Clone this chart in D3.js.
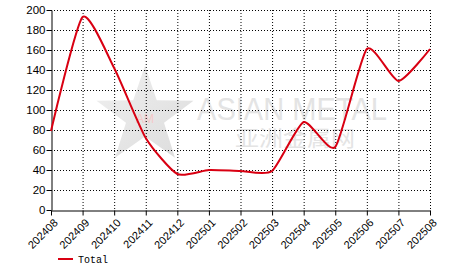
<!DOCTYPE html>
<html>
<head>
<meta charset="utf-8">
<script src="https://cdn.jsdelivr.net/npm/d3@7"></script>
<style>
  body { margin: 0; background: #fff; }
  svg { display: block; }
</style>
</head>
<body>
<svg id="chart" width="466" height="272"></svg>
<script>
const months = ["202408", "202409", "202410", "202411", "202412", "202501", "202502",
  "202503", "202504", "202505", "202506", "202507", "202508"];
const totals = [79, 193, 142, 72, 36, 40, 39, 39, 88, 63, 161, 129, 161];
const yTicks = [0, 20, 40, 60, 80, 100, 120, 140, 160, 180, 200];
const seriesName = "Total";

const svg = d3.select("#chart");
const margin = { top: 10, right: 36, bottom: 62, left: 51 };
const innerWidth = 466 - margin.left - margin.right;
const innerHeight = 272 - margin.top - margin.bottom;

const x = d3.scalePoint().domain(months).range([0, innerWidth]);
const y = d3.scaleLinear().domain([0, 200]).range([innerHeight, 0]);

// watermark
const defs = svg.append("defs");
const grad = defs.append("linearGradient").attr("id", "starfill")
  .attr("x1", 0).attr("y1", 0).attr("x2", 1).attr("y2", 1);
grad.append("stop").attr("offset", "0%").attr("stop-color", "#f0f0f0");
grad.append("stop").attr("offset", "100%").attr("stop-color", "#dcdcdc");
const wm = svg.append("g");
const star = d3.range(10).map(i => {
  const r = i % 2 ? 20 : 51;
  const a = -Math.PI / 2 + i * Math.PI / 5;
  return [145 + r * Math.cos(a), 116.5 + r * Math.sin(a)];
});
wm.append("polygon").attr("points", star.join(" ")).attr("fill", "url(#starfill)");
wm.append("text").attr("x", 145).attr("y", 123).attr("text-anchor", "middle")
  .attr("font-family", "Liberation Sans, Arial, sans-serif").attr("font-size", 12)
  .attr("fill", "#f6c8c8").text("AM");
wm.append("text").attr("x", 197).attr("y", 120)
  .attr("font-family", "Liberation Sans, Arial, sans-serif")
  .attr("font-size", 32).attr("fill", "#e4e4e4")
  .attr("textLength", 190).attr("lengthAdjust", "spacingAndGlyphs").text("ASIAN METAL");
wm.append("text").attr("x", 235).attr("y", 146)
  .attr("font-family", "Noto Sans CJK SC, sans-serif").attr("font-size", 22)
  .attr("fill", "#e4e4e4")
  .attr("textLength", 120).attr("lengthAdjust", "spacingAndGlyphs").text("亚洲金属网");

const g = svg.append("g").attr("transform", `translate(${margin.left},${margin.top})`);

// dotted grid
g.append("g").selectAll("line")
  .data(yTicks.filter(d => d > 0))
  .join("line")
  .attr("x1", 0).attr("x2", innerWidth)
  .attr("y1", d => y(d) + 0.5).attr("y2", d => y(d) + 0.5)
  .attr("stroke", "#000").attr("stroke-dasharray", "1,2");
g.append("g").selectAll("line")
  .data(months.slice(1))
  .join("line")
  .attr("x1", d => x(d) + 0.5).attr("x2", d => x(d) + 0.5)
  .attr("y1", 0).attr("y2", innerHeight)
  .attr("stroke", "#000").attr("stroke-dasharray", "1,2");

// y axis
const yAxis = g.append("g")
  .attr("transform", "translate(0.5,0)")
  .call(d3.axisLeft(y).tickValues(yTicks).tickSize(5).tickSizeOuter(0));
yAxis.select(".domain").attr("stroke", "#000");
yAxis.selectAll("text").attr("font-family", "Liberation Sans, Arial, sans-serif")
  .attr("font-size", 11.5).attr("fill", "#000").attr("x", -6);

// x axis
const xAxis = g.append("g")
  .attr("transform", `translate(0,${innerHeight + 0.5})`)
  .call(d3.axisBottom(x).tickSize(5).tickSizeOuter(0));
xAxis.select(".domain").attr("stroke", "#000");
xAxis.selectAll("text")
  .attr("font-family", "Liberation Sans, Arial, sans-serif")
  .attr("font-size", 11).attr("fill", "#000")
  .attr("x", 0).attr("y", 0).attr("dy", null)
  .attr("transform", "translate(7,13) rotate(-45)")
  .style("text-anchor", "end");

// line
const line = d3.line()
  .x((d, i) => x(months[i]))
  .y(d => y(d))
  .curve(d3.curveCardinal.tension(0.4));
g.append("path")
  .datum(totals)
  .attr("d", line)
  .attr("fill", "none")
  .attr("stroke", "#d90012")
  .attr("stroke-width", 2);

// legend
const legend = svg.append("g").attr("transform", "translate(58,259)");
legend.append("line").attr("x1", 0).attr("x2", 15).attr("y1", 0).attr("y2", 0)
  .attr("stroke", "#d90012").attr("stroke-width", 2);
legend.append("text").attr("x", 20).attr("y", 4)
  .attr("font-family", "Liberation Mono, monospace").attr("font-size", 10)
  .attr("fill", "#000").text(seriesName);
</script>
</body>
</html>
